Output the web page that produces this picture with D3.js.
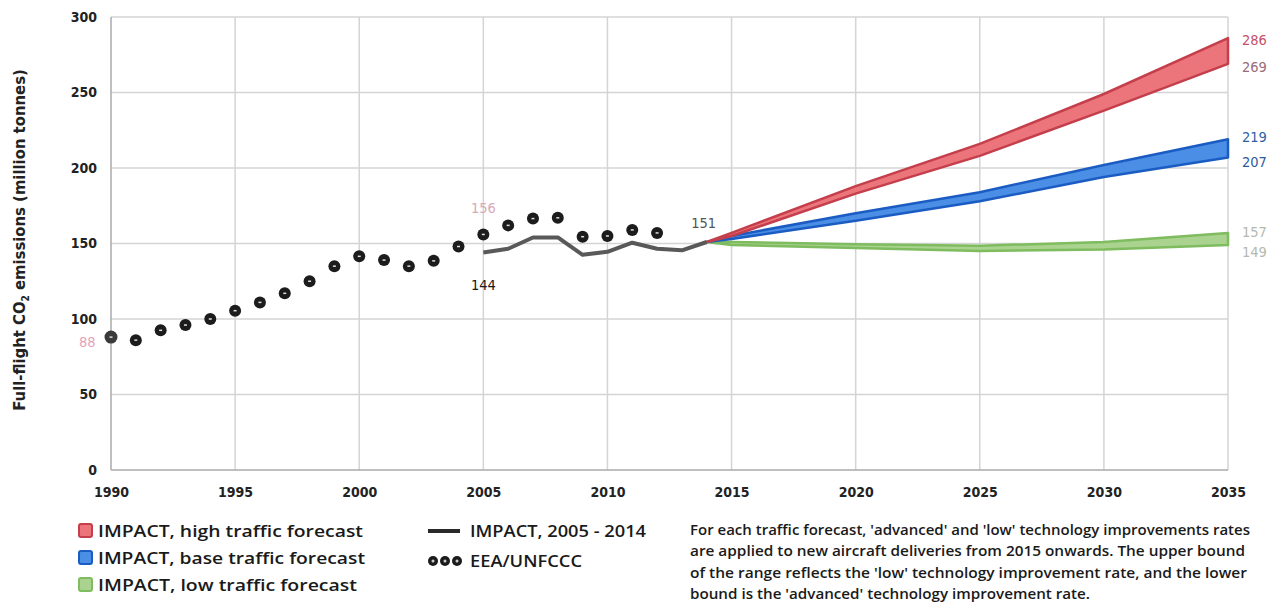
<!DOCTYPE html>
<html>
<head>
<meta charset="utf-8">
<script src="https://cdn.jsdelivr.net/npm/d3@7"></script>
<style>
  html, body { margin: 0; padding: 0; background: #fff; }
  svg { display: block; }
  text { font-family: "DejaVu Sans Condensed", "DejaVu Sans", sans-serif; }
</style>
</head>
<body>
<svg id="chart" width="1274" height="605"></svg>
<script>
// ---------- DATA ----------
const eeaYears = [1990,1991,1992,1993,1994,1995,1996,1997,1998,1999,2000,2001,2002,2003,2004,2005,2006,2007,2008,2009,2010,2011,2012];
const eeaValues = [88,86,92.5,96,100,105.5,111,117,125,135,141.5,139,135,138.5,148,156,162,166.5,167,154.5,155,159,157];

const impactYears = [2005,2006,2007,2008,2009,2010,2011,2012,2013,2014];
const impactValues = [144,146.5,154,154,142.5,144.5,150.5,146.5,145.5,151];

const forecastYears = [2014,2015,2020,2025,2030,2035];
const highUpper = [151,157,188,216,249,286];
const highLower = [151,155,183,208,238,269];
const baseUpper = [151,155,170,184,202,219];
const baseLower = [151,153,165,178,194,207];
const lowUpper  = [151,151,149.5,148.5,151,157];
const lowLower  = [151,149,147,145,146,149];

const xTicks = [1990,1995,2000,2005,2010,2015,2020,2025,2030,2035];
const yTicks = [0,50,100,150,200,250,300];

const legendLabels = ["IMPACT, high traffic forecast","IMPACT, base traffic forecast","IMPACT, low traffic forecast"];
const legendLabels2 = ["IMPACT, 2005 - 2014","EEA/UNFCCC"];
const noteLines = [
  "For each traffic forecast, 'advanced' and 'low' technology improvements rates",
  "are applied to new aircraft deliveries from 2015 onwards. The upper bound",
  "of the range reflects the 'low' technology improvement rate, and the lower",
  "bound is the 'advanced' technology improvement rate."
];

// ---------- DRAW ----------
const svg = d3.select("#chart");
const x = d3.scaleLinear().domain([1990,2035]).range([111,1228]);
const y = d3.scaleLinear().domain([0,300]).range([470,17]);

// grid
const grid = svg.append("g");
grid.selectAll("line.h").data(yTicks.filter(d=>d>0)).join("line")
  .attr("x1", x(1990)).attr("x2", x(2035))
  .attr("y1", d=>y(d)).attr("y2", d=>y(d))
  .attr("stroke", "#d4d4d4").attr("stroke-width", 1.5);
grid.selectAll("line.v").data(xTicks.filter(d=>d>1990)).join("line")
  .attr("x1", d=>x(d)).attr("x2", d=>x(d))
  .attr("y1", y(300)).attr("y2", y(0))
  .attr("stroke", "#d4d4d4").attr("stroke-width", 1.5);
svg.append("line").attr("x1", x(1990)).attr("x2", x(1990)).attr("y1", y(300)).attr("y2", y(0))
  .attr("stroke", "#aaa").attr("stroke-width", 1.5);
svg.append("line").attr("x1", x(1990)).attr("x2", x(2035)).attr("y1", y(0)).attr("y2", y(0))
  .attr("stroke", "#aaa").attr("stroke-width", 1.5);

// y axis
const yAxis = d3.axisLeft(y).tickValues(yTicks).tickSize(0).tickPadding(14);
const gy = svg.append("g").attr("transform", `translate(${x(1990)},0)`).call(yAxis);
gy.select(".domain").remove();
gy.selectAll("text").attr("font-size", 14).attr("font-weight", "bold").attr("fill", "#222")
  .style("font-family", '"DejaVu Sans Condensed", sans-serif');

// x axis
const xAxis = d3.axisBottom(x).tickValues(xTicks).tickFormat(d3.format("d")).tickSize(0).tickPadding(17);
const gx = svg.append("g").attr("transform", `translate(0,${y(0)})`).call(xAxis);
gx.select(".domain").remove();
gx.selectAll("text").attr("font-size", 14).attr("font-weight", "bold").attr("fill", "#222")
  .style("font-family", '"DejaVu Sans Condensed", sans-serif');

// y title
const yt = svg.append("text")
  .attr("transform", `translate(25,240) rotate(-90)`)
  .attr("text-anchor", "middle")
  .attr("font-size", 16.5).attr("font-weight", "bold").attr("fill", "#222");
yt.append("tspan").text("Full-flight CO");
yt.append("tspan").text("2").attr("font-size", 10).attr("dy", 4);
yt.append("tspan").text(" emissions (million tonnes)").attr("dy", -4);

// forecast bands
const bands = [
  {up: highUpper, lo: highLower, fill: "#ec747b", stroke: "#c43f4b"},
  {up: baseUpper, lo: baseLower, fill: "#4a8ee6", stroke: "#1b5cc2"},
  {up: lowUpper,  lo: lowLower,  fill: "#a9d38e", stroke: "#7fbc5f"}
];
const area = d3.area().x(d=>x(d.year)).y0(d=>y(d.lo)).y1(d=>y(d.up)).curve(d3.curveLinear);
bands.slice().reverse().forEach(b => {
  const pts = forecastYears.map((yr,i)=>({year: yr, up: b.up[i], lo: b.lo[i]}));
  svg.append("path").datum(pts).attr("d", area)
    .attr("fill", b.fill).attr("stroke", b.stroke).attr("stroke-width", 2.5)
    .attr("stroke-linejoin", "round");
});

// IMPACT line
const line = d3.line().x((d,i)=>x(impactYears[i])).y(d=>y(d)).curve(d3.curveLinear);
svg.append("path").datum(impactValues).attr("d", line)
  .attr("fill", "none").attr("stroke", "#595959").attr("stroke-width", 4).attr("stroke-linejoin", "round");

// EEA points
const pts = svg.append("g");
pts.selectAll("circle").data(eeaValues).join("circle")
  .attr("cx", (d,i)=>x(eeaYears[i])).attr("cy", d=>y(d))
  .attr("r", (d,i)=> i===0 ? 6.5 : 6)
  .attr("fill", (d,i)=> i===0 ? "#3a3a3a" : "#1c1c1c");
pts.selectAll("rect").data(eeaValues).join("rect")
  .attr("x", (d,i)=>x(eeaYears[i]) - 1.5).attr("y", d=>y(d) - 0.75)
  .attr("width", 3).attr("height", 1.5).attr("fill", "#ddd");

// value labels
const labels = [
  {t:"88",  yr:1990, v:88,  dx:-32, dy:10, c:"#e3a3bb", a:"start"},
  {t:"156", yr:2005, v:156, dx:0,   dy:-21, c:"#d6a9ba", a:"middle"},
  {t:"144", yr:2005, v:144, dx:0,   dy:37, c:"#1a1a1a", a:"middle"},
  {t:"151", yr:2014, v:151, dx:-3,  dy:-14, c:"#555",    a:"middle"},
  {t:"286", yr:2035, v:286, dx:14,  dy:7, c:"#c4506b", a:"start"},
  {t:"269", yr:2035, v:269, dx:14,  dy:8, c:"#9a6b79", a:"start"},
  {t:"219", yr:2035, v:219, dx:14,  dy:3, c:"#2f62a8", a:"start"},
  {t:"207", yr:2035, v:207, dx:14,  dy:10, c:"#2f5a9a", a:"start"},
  {t:"157", yr:2035, v:157, dx:14,  dy:4, c:"#b4b9ad", a:"start"},
  {t:"149", yr:2035, v:149, dx:14,  dy:12, c:"#b4b9ad", a:"start"}
];
svg.append("g").selectAll("text").data(labels).join("text")
  .attr("x", d=>x(d.yr)+d.dx).attr("y", d=>y(d.v)+d.dy)
  .attr("text-anchor", d=>d.a).attr("font-size", 14.5)
  .attr("fill", d=>d.c).text(d=>d.t);

// legend column 1
const swatchFill = ["#ec747b","#4a8ee6","#a9d38e"];
const swatchStroke = ["#c43f4b","#1b5cc2","#7fbc5f"];
const legFont = '"Open Sans", "DejaVu Sans", sans-serif';
const leg = svg.append("g");
const legY = [531, 558, 585];
const legW = [265, 267, 259];
leg.selectAll("rect").data(legendLabels).join("rect")
  .attr("x", 79).attr("y", (d,i)=>legY[i]-7).attr("width", 13).attr("height", 13).attr("rx", 2)
  .attr("fill", (d,i)=>swatchFill[i]).attr("stroke", (d,i)=>swatchStroke[i]).attr("stroke-width", 2);
leg.selectAll("text").data(legendLabels).join("text")
  .attr("x", 98).attr("y", (d,i)=>legY[i]+6).attr("font-size", 17).attr("font-weight", 600)
  .style("font-family", legFont)
  .attr("textLength", (d,i)=>legW[i]).attr("lengthAdjust", "spacingAndGlyphs")
  .attr("fill", "#1a1a1a").text(d=>d);

// legend column 2
leg.append("line").attr("x1", 428).attr("x2", 460).attr("y1", 531).attr("y2", 531)
  .attr("stroke", "#2a2a2a").attr("stroke-width", 4);
[433,445,457].forEach(cx=>{
  leg.append("circle").attr("cx", cx).attr("cy", 561).attr("r", 5).attr("fill", "#1c1c1c");
  leg.append("circle").attr("cx", cx).attr("cy", 561).attr("r", 1.5).attr("fill", "#ccc");
});
leg.append("text").attr("x", 470).attr("y", 537).attr("font-size", 17).attr("font-weight", 600)
  .style("font-family", legFont).attr("textLength", 176).attr("lengthAdjust", "spacingAndGlyphs")
  .attr("fill", "#1a1a1a").text(legendLabels2[0]);
leg.append("text").attr("x", 470).attr("y", 567).attr("font-size", 17).attr("font-weight", 600)
  .style("font-family", legFont).attr("textLength", 112).attr("lengthAdjust", "spacingAndGlyphs")
  .attr("fill", "#1a1a1a").text(legendLabels2[1]);

// note
const noteW = [560, 555, 557, 400];
svg.append("g").selectAll("text").data(noteLines).join("text")
  .attr("x", 690).attr("y", (d,i)=>535 + i*21.3).attr("font-size", 14.5).attr("font-weight", 600)
  .style("font-family", legFont)
  .attr("textLength", (d,i)=>noteW[i]).attr("lengthAdjust", "spacingAndGlyphs")
  .attr("fill", "#1a1a1a").text(d=>d);
</script>
</body>
</html>
